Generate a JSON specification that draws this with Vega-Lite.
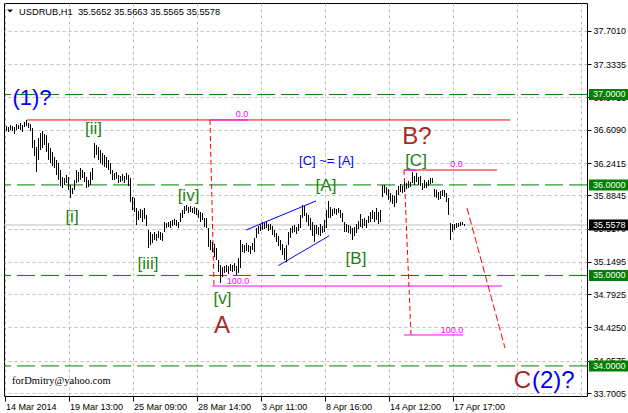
{
  "$schema": "https://vega.github.io/schema/vega-lite/v6.json",
  "width": 583,
  "height": 393,
  "autosize": "none",
  "padding": {"left": 4, "top": 3, "right": 41, "bottom": 17},
  "background": "white",
  "config": {"view": {"stroke": "black", "strokeWidth": 1}, "axis": {"labelOverlap": false}},
  "datasets": {
    "bars": [
      {"t":0,"hi":36.640,"lo":36.552},{"t":1,"hi":36.651,"lo":36.596},{"t":2,"hi":36.640,"lo":36.585},{"t":3,"hi":36.662,"lo":36.607},{"t":4,"hi":36.651,"lo":36.596},
      {"t":5,"hi":36.640,"lo":36.563},{"t":6,"hi":36.673,"lo":36.607},{"t":7,"hi":36.662,"lo":36.618},{"t":8,"hi":36.684,"lo":36.607},{"t":9,"hi":36.662,"lo":36.585},
      {"t":10,"hi":36.695,"lo":36.640},{"t":11,"hi":36.718,"lo":36.651},{"t":12,"hi":36.684,"lo":36.629},{"t":13,"hi":36.673,"lo":36.596},{"t":14,"hi":36.629,"lo":36.408},
      {"t":15,"hi":36.497,"lo":36.320},{"t":16,"hi":36.419,"lo":36.143},{"t":17,"hi":36.519,"lo":36.276},{"t":18,"hi":36.574,"lo":36.386},{"t":19,"hi":36.596,"lo":36.408},
      {"t":20,"hi":36.563,"lo":36.441},{"t":21,"hi":36.552,"lo":36.364},{"t":22,"hi":36.463,"lo":36.276},{"t":23,"hi":36.408,"lo":36.242},{"t":24,"hi":36.364,"lo":36.209},
      {"t":25,"hi":36.309,"lo":36.187},{"t":26,"hi":36.276,"lo":36.110},{"t":27,"hi":36.242,"lo":36.055},{"t":28,"hi":36.165,"lo":35.988},{"t":29,"hi":36.088,"lo":35.966},
      {"t":30,"hi":36.077,"lo":35.999},{"t":31,"hi":36.110,"lo":36.021},{"t":32,"hi":36.088,"lo":35.944},{"t":33,"hi":35.999,"lo":35.856},{"t":34,"hi":35.966,"lo":35.900},
      {"t":35,"hi":36.055,"lo":35.944},{"t":36,"hi":36.165,"lo":36.021},{"t":37,"hi":36.143,"lo":36.032},{"t":38,"hi":36.187,"lo":36.055},{"t":39,"hi":36.165,"lo":36.077},
      {"t":40,"hi":36.143,"lo":36.032},{"t":41,"hi":36.088,"lo":35.966},{"t":42,"hi":36.055,"lo":35.977},{"t":43,"hi":36.143,"lo":35.999},{"t":44,"hi":36.187,"lo":36.055},
      {"t":45,"hi":36.463,"lo":36.298},{"t":46,"hi":36.441,"lo":36.331},{"t":47,"hi":36.419,"lo":36.276},{"t":48,"hi":36.386,"lo":36.242},{"t":49,"hi":36.353,"lo":36.220},
      {"t":50,"hi":36.331,"lo":36.198},{"t":51,"hi":36.309,"lo":36.187},{"t":52,"hi":36.276,"lo":36.165},{"t":53,"hi":36.242,"lo":36.121},{"t":54,"hi":36.165,"lo":36.055},
      {"t":55,"hi":36.132,"lo":36.055},{"t":56,"hi":36.143,"lo":36.066},{"t":57,"hi":36.110,"lo":36.021},{"t":58,"hi":36.099,"lo":36.032},{"t":59,"hi":36.121,"lo":36.044},
      {"t":60,"hi":36.099,"lo":36.021},{"t":61,"hi":36.132,"lo":36.055},{"t":62,"hi":36.110,"lo":35.988},{"t":63,"hi":36.077,"lo":35.811},{"t":64,"hi":35.867,"lo":35.723},
      {"t":65,"hi":35.856,"lo":35.701},{"t":66,"hi":35.745,"lo":35.557},{"t":67,"hi":35.712,"lo":35.613},{"t":68,"hi":35.734,"lo":35.635},{"t":69,"hi":35.723,"lo":35.590},
      {"t":70,"hi":35.745,"lo":35.624},{"t":71,"hi":35.668,"lo":35.546},{"t":72,"hi":35.502,"lo":35.303},{"t":73,"hi":35.480,"lo":35.336},{"t":74,"hi":35.458,"lo":35.358},
      {"t":75,"hi":35.480,"lo":35.392},{"t":76,"hi":35.458,"lo":35.381},{"t":77,"hi":35.491,"lo":35.414},{"t":78,"hi":35.480,"lo":35.392},{"t":79,"hi":35.469,"lo":35.381},
      {"t":80,"hi":35.590,"lo":35.480},{"t":81,"hi":35.579,"lo":35.524},{"t":82,"hi":35.590,"lo":35.535},{"t":83,"hi":35.602,"lo":35.524},{"t":84,"hi":35.613,"lo":35.546},
      {"t":85,"hi":35.624,"lo":35.557},{"t":86,"hi":35.613,"lo":35.546},{"t":87,"hi":35.590,"lo":35.524},{"t":88,"hi":35.690,"lo":35.590},{"t":89,"hi":35.723,"lo":35.635},
      {"t":90,"hi":35.767,"lo":35.679},{"t":91,"hi":35.778,"lo":35.712},{"t":92,"hi":35.756,"lo":35.690},{"t":93,"hi":35.767,"lo":35.701},{"t":94,"hi":35.745,"lo":35.690},
      {"t":95,"hi":35.756,"lo":35.679},{"t":96,"hi":35.745,"lo":35.668},{"t":97,"hi":35.723,"lo":35.635},{"t":98,"hi":35.701,"lo":35.590},{"t":99,"hi":35.690,"lo":35.613},
      {"t":100,"hi":35.635,"lo":35.535},{"t":101,"hi":35.635,"lo":35.524},{"t":102,"hi":35.524,"lo":35.314},{"t":103,"hi":35.392,"lo":35.281},{"t":104,"hi":35.369,"lo":35.259},
      {"t":105,"hi":35.347,"lo":35.204},{"t":106,"hi":35.303,"lo":35.171},{"t":107,"hi":35.171,"lo":35.038},{"t":108,"hi":35.115,"lo":34.917},{"t":109,"hi":35.093,"lo":34.983},
      {"t":110,"hi":35.104,"lo":35.027},{"t":111,"hi":35.115,"lo":35.038},{"t":112,"hi":35.104,"lo":35.016},{"t":113,"hi":35.126,"lo":35.049},{"t":114,"hi":35.115,"lo":35.038},
      {"t":115,"hi":35.137,"lo":35.049},{"t":116,"hi":35.104,"lo":35.005},{"t":117,"hi":35.193,"lo":35.027},{"t":118,"hi":35.392,"lo":35.082},{"t":119,"hi":35.347,"lo":35.259},
      {"t":120,"hi":35.336,"lo":35.248},{"t":121,"hi":35.358,"lo":35.270},{"t":122,"hi":35.336,"lo":35.259},{"t":123,"hi":35.325,"lo":35.237},{"t":124,"hi":35.358,"lo":35.281},
      {"t":125,"hi":35.414,"lo":35.259},{"t":126,"hi":35.524,"lo":35.414},{"t":127,"hi":35.546,"lo":35.458},{"t":128,"hi":35.568,"lo":35.491},{"t":129,"hi":35.590,"lo":35.502},
      {"t":130,"hi":35.579,"lo":35.513},{"t":131,"hi":35.590,"lo":35.524},{"t":132,"hi":35.568,"lo":35.491},{"t":133,"hi":35.568,"lo":35.502},{"t":134,"hi":35.546,"lo":35.447},
      {"t":135,"hi":35.502,"lo":35.425},{"t":136,"hi":35.469,"lo":35.369},{"t":137,"hi":35.436,"lo":35.325},{"t":138,"hi":35.392,"lo":35.281},{"t":139,"hi":35.347,"lo":35.226},
      {"t":140,"hi":35.303,"lo":35.171},{"t":141,"hi":35.336,"lo":35.148},{"t":142,"hi":35.480,"lo":35.336},{"t":143,"hi":35.524,"lo":35.414},{"t":144,"hi":35.546,"lo":35.469},
      {"t":145,"hi":35.557,"lo":35.480},{"t":146,"hi":35.535,"lo":35.458},{"t":147,"hi":35.568,"lo":35.491},{"t":148,"hi":35.668,"lo":35.524},{"t":149,"hi":35.778,"lo":35.635},
      {"t":150,"hi":35.767,"lo":35.657},{"t":151,"hi":35.690,"lo":35.590},{"t":152,"hi":35.668,"lo":35.546},{"t":153,"hi":35.635,"lo":35.502},{"t":154,"hi":35.590,"lo":35.436},
      {"t":155,"hi":35.557,"lo":35.369},{"t":156,"hi":35.557,"lo":35.458},{"t":157,"hi":35.535,"lo":35.447},{"t":158,"hi":35.568,"lo":35.436},{"t":159,"hi":35.546,"lo":35.469},
      {"t":160,"hi":35.613,"lo":35.480},{"t":161,"hi":35.723,"lo":35.524},{"t":162,"hi":35.823,"lo":35.635},{"t":163,"hi":35.756,"lo":35.635},{"t":164,"hi":35.734,"lo":35.657},
      {"t":165,"hi":35.745,"lo":35.679},{"t":166,"hi":35.734,"lo":35.668},{"t":167,"hi":35.745,"lo":35.690},{"t":168,"hi":35.723,"lo":35.635},{"t":169,"hi":35.690,"lo":35.590},
      {"t":170,"hi":35.590,"lo":35.480},{"t":171,"hi":35.568,"lo":35.480},{"t":172,"hi":35.557,"lo":35.469},{"t":173,"hi":35.546,"lo":35.458},{"t":174,"hi":35.524,"lo":35.392},
      {"t":175,"hi":35.535,"lo":35.436},{"t":176,"hi":35.568,"lo":35.469},{"t":177,"hi":35.602,"lo":35.513},{"t":178,"hi":35.679,"lo":35.535},{"t":179,"hi":35.624,"lo":35.524},
      {"t":180,"hi":35.635,"lo":35.546},{"t":181,"hi":35.613,"lo":35.524},{"t":182,"hi":35.657,"lo":35.579},{"t":183,"hi":35.701,"lo":35.590},{"t":184,"hi":35.723,"lo":35.624},
      {"t":185,"hi":35.701,"lo":35.590},{"t":186,"hi":35.745,"lo":35.613},{"t":187,"hi":35.701,"lo":35.568},{"t":188,"hi":35.723,"lo":35.590},{"t":189,"hi":35.999,"lo":35.867},
      {"t":190,"hi":35.999,"lo":35.911},{"t":191,"hi":35.977,"lo":35.889},{"t":192,"hi":35.955,"lo":35.834},{"t":193,"hi":35.911,"lo":35.811},{"t":194,"hi":35.889,"lo":35.789},
      {"t":195,"hi":35.878,"lo":35.756},{"t":196,"hi":35.944,"lo":35.800},{"t":197,"hi":35.988,"lo":35.889},{"t":198,"hi":36.010,"lo":35.922},{"t":199,"hi":35.988,"lo":35.911},
      {"t":200,"hi":36.032,"lo":35.922},{"t":201,"hi":36.021,"lo":35.955},{"t":202,"hi":36.044,"lo":35.966},{"t":203,"hi":36.032,"lo":35.977},{"t":204,"hi":36.143,"lo":36.021},
      {"t":205,"hi":36.099,"lo":35.999},{"t":206,"hi":36.132,"lo":36.032},{"t":207,"hi":36.088,"lo":35.999},{"t":208,"hi":36.099,"lo":35.988},{"t":209,"hi":36.021,"lo":35.944},
      {"t":210,"hi":36.055,"lo":35.966},{"t":211,"hi":36.032,"lo":35.966},{"t":212,"hi":36.055,"lo":35.988},{"t":213,"hi":36.077,"lo":36.010},{"t":214,"hi":36.077,"lo":36.021},
      {"t":215,"hi":35.955,"lo":35.867},{"t":216,"hi":35.944,"lo":35.856},{"t":217,"hi":35.922,"lo":35.834},{"t":218,"hi":35.933,"lo":35.845},{"t":219,"hi":35.944,"lo":35.878},
      {"t":220,"hi":35.944,"lo":35.867},{"t":221,"hi":35.911,"lo":35.811},{"t":222,"hi":35.856,"lo":35.668},{"t":223,"hi":35.579,"lo":35.392},{"t":224,"hi":35.568,"lo":35.480},
      {"t":225,"hi":35.568,"lo":35.502},{"t":226,"hi":35.579,"lo":35.524},{"t":227,"hi":35.579,"lo":35.535},{"t":228,"hi":35.590,"lo":35.546},{"t":229,"hi":35.590,"lo":35.557},
      {"t":230,"hi":35.568,"lo":35.546}
    ],
    "levels": [
      {"v":37.0},{"v":36.0},{"v":35.0},{"v":34.0}
    ],
    "price": [{"v":35.5578}],
    "tags": [
      {"v":37.0,"lbl":"37.0000","kind":"level"},{"v":36.0,"lbl":"36.0000","kind":"level"},
      {"v":35.0,"lbl":"35.0000","kind":"level"},{"v":34.0,"lbl":"34.0000","kind":"level"},
      {"v":35.5578,"lbl":"35.5578","kind":"bid"}
    ],
    "redSolid": [
      {"t":11.25,"p":36.718,"t2":252.75,"p2":36.718},
      {"t":199.75,"p":36.165,"t2":246.25,"p2":36.165}
    ],
    "magentaSolid": [
      {"t":102.75,"p":36.718,"t2":121.75,"p2":36.718},
      {"t":103.75,"p":34.883,"t2":248.75,"p2":34.883},
      {"t":199.75,"p":36.165,"t2":206,"p2":36.165},
      {"t":199.75,"p":34.342,"t2":229.25,"p2":34.342}
    ],
    "fibTrend": [
      {"t":102.75,"p":36.718,"t2":104.75,"p2":34.883},
      {"t":199.75,"p":36.165,"t2":203.25,"p2":34.342}
    ],
    "projection": [{"t":231.25,"p":35.745,"t2":250.25,"p2":34.198}],
    "channel": [
      {"t":120.75,"p":35.502,"t2":155.75,"p2":35.823},
      {"t":136.9,"p":35.108,"t2":162.4,"p2":35.439}
    ],
    "waves": [
      {"t":33.75,"p":35.651,"txt":"[i]"},{"t":44.5,"p":36.613,"txt":"[ii]"},{"t":71.75,"p":35.121,"txt":"[iii]"},
      {"t":92,"p":35.878,"txt":"[iv]"},{"t":109,"p":34.740,"txt":"[v]"},{"t":160.75,"p":35.988,"txt":"[A]"},
      {"t":175.75,"p":35.187,"txt":"[B]"},{"t":205.75,"p":36.264,"txt":"[C]"}
    ],
    "redText": [
      {"t":108.75,"p":34.441,"txt":"A"},{"t":206.25,"p":36.530,"txt":"B?"},{"t":259,"p":33.833,"txt":"C"}
    ],
    "fibText": [
      {"t":118.75,"p":36.784,"txt":"0.0"},{"t":116.75,"p":34.939,"txt":"100.0"},
      {"t":226,"p":36.226,"txt":"0.0"},{"t":223.75,"p":34.397,"txt":"100.0"}
    ]
  },
  "encoding": {
    "y": {"field": "p", "type": "quantitative", "title": null,
      "scale": {"domain": [33.6677, 38.0104], "nice": false, "zero": false},
      "axis": {"orient": "right",
        "values": [33.7005,34.0575,34.425,34.7925,35.1495,35.517,35.8845,36.2415,36.609,36.9713,37.3335,37.701],
        "format": ".4f", "tickSize": 4, "labelPadding": 2, "tickColor": "black",
        "grid": true, "gridColor": "#c0c0c0", "gridDash": [3, 3], "domain": false,
        "labelFont": "Liberation Sans", "labelFontSize": 9, "labelColor": "black",
        "labelFlush": false, "labelOverlap": false, "labelBound": false}}
  },
  "layer": [
    {
      "data": {"name": "bars"},
      "mark": {"type": "rule", "color": "black", "strokeWidth": 1, "opacity": 0},
      "encoding": {
        "x": {"field": "t", "type": "quantitative", "title": null,
          "scale": {"domain": [-0.25, 291.25], "nice": false, "zero": false},
          "axis": {"values": [0,32,64,96,128,160,192,224,256,288],
            "labelExpr": "datum.value <= 224 ? ['14 Mar 2014','19 Mar 13:00','25 Mar 09:00','28 Mar 14:00','3 Apr 11:00','8 Apr 16:00','14 Apr 12:00','17 Apr 17:00'][round(datum.value/32)] : ''",
            "labelAlign": "left", "labelOffset": 1, "labelPadding": 1, "labelBaseline": "top",
            "tickSize": 5, "tickColor": {"condition": {"test": "datum.value > 224", "value": "transparent"}, "value": "black"},
            "grid": true, "gridColor": "#c0c0c0", "gridDash": [3, 3], "domain": false,
            "labelFont": "Liberation Sans", "labelFontSize": 9, "labelColor": "black",
            "labelFlush": false, "labelOverlap": false, "labelBound": false}},
        "y": {"field": "hi", "type": "quantitative"},
        "y2": {"field": "lo"}
      }
    },
    {
      "data": {"name": "levels"},
      "mark": {"type": "rule", "color": "#008000", "strokeWidth": 1, "strokeDash": [18, 6]},
      "encoding": {"y": {"field": "v", "type": "quantitative"}}
    },
    {
      "data": {"name": "price"},
      "mark": {"type": "rule", "color": "#c0c0c0", "strokeWidth": 1},
      "encoding": {"y": {"field": "v", "type": "quantitative"}}
    },
    {
      "data": {"name": "redSolid"},
      "mark": {"type": "rule", "color": "#ff0000", "strokeWidth": 1},
      "encoding": {"x": {"field": "t", "type": "quantitative"}, "x2": {"field": "t2"}, "y2": {"field": "p2"}}
    },
    {
      "data": {"name": "magentaSolid"},
      "mark": {"type": "rule", "color": "#ff00ff", "strokeWidth": 1},
      "encoding": {"x": {"field": "t", "type": "quantitative"}, "x2": {"field": "t2"}, "y2": {"field": "p2"}}
    },
    {
      "data": {"name": "fibTrend"},
      "mark": {"type": "rule", "color": "#ff0000", "strokeWidth": 1, "strokeDash": [5, 3]},
      "encoding": {"x": {"field": "t", "type": "quantitative"}, "x2": {"field": "t2"}, "y2": {"field": "p2"}}
    },
    {
      "data": {"name": "projection"},
      "mark": {"type": "rule", "color": "#ff0000", "strokeWidth": 1, "strokeDash": [7, 3]},
      "encoding": {"x": {"field": "t", "type": "quantitative"}, "x2": {"field": "t2"}, "y2": {"field": "p2"}}
    },
    {
      "data": {"name": "bars"},
      "mark": {"type": "rule", "color": "black", "strokeWidth": 1},
      "encoding": {"x": {"field": "t", "type": "quantitative"}, "y": {"field": "hi", "type": "quantitative"}, "y2": {"field": "lo"}}
    },
    {
      "data": {"name": "channel"},
      "mark": {"type": "rule", "color": "#0000ff", "strokeWidth": 1},
      "encoding": {"x": {"field": "t", "type": "quantitative"}, "x2": {"field": "t2"}, "y2": {"field": "p2"}}
    },
    {
      "data": {"name": "waves"},
      "mark": {"type": "text", "font": "Liberation Sans", "fontSize": 17, "color": "#1f7f12", "align": "center", "baseline": "middle"},
      "encoding": {"x": {"field": "t", "type": "quantitative"}, "text": {"field": "txt"}}
    },
    {
      "data": {"name": "redText"},
      "mark": {"type": "text", "font": "Liberation Sans", "fontSize": 24, "color": "#a52a2a", "align": "center", "baseline": "middle"},
      "encoding": {"x": {"field": "t", "type": "quantitative"}, "text": {"field": "txt"}}
    },
    {
      "data": {"name": "fibText"},
      "mark": {"type": "text", "font": "Liberation Sans", "fontSize": 9, "color": "#ff00ff", "align": "center", "baseline": "middle"},
      "encoding": {"x": {"field": "t", "type": "quantitative"}, "text": {"field": "txt"}}
    },
    {
      "data": {"values": [{"t": 13.75, "p": 36.961, "txt": "(1)?"}]},
      "mark": {"type": "text", "font": "Liberation Sans", "fontSize": 22, "color": "#0000ff", "align": "center", "baseline": "middle"},
      "encoding": {"x": {"field": "t", "type": "quantitative"}, "text": {"field": "txt"}}
    },
    {
      "data": {"values": [{"t": 263.75, "p": 33.833, "txt": "(2)?"}]},
      "mark": {"type": "text", "font": "Liberation Sans", "fontSize": 24, "color": "#0000ff", "align": "left", "baseline": "middle"},
      "encoding": {"x": {"field": "t", "type": "quantitative"}, "text": {"field": "txt"}}
    },
    {
      "data": {"values": [{"t": 161, "p": 36.264, "txt": "[C] ~= [A]"}]},
      "mark": {"type": "text", "font": "Liberation Sans", "fontSize": 13, "color": "#0000ff", "align": "center", "baseline": "middle"},
      "encoding": {"x": {"field": "t", "type": "quantitative"}, "text": {"field": "txt"}}
    },
    {
      "data": {"values": [{"t": 3.75, "p": 33.833, "txt": "forDmitry@yahoo.com"}]},
      "mark": {"type": "text", "font": "Liberation Serif", "fontSize": 10.5, "color": "black", "align": "left", "baseline": "middle"},
      "encoding": {"x": {"field": "t", "type": "quantitative"}, "text": {"field": "txt"}}
    },
    {
      "data": {"values": [{"t": 7.25, "p": 37.911, "txt": "USDRUB,H1\u00a0 35.5652 35.5663 35.5565 35.5578"}]},
      "mark": {"type": "text", "font": "Liberation Sans", "fontSize": 9.3, "color": "black", "align": "left", "baseline": "middle"},
      "encoding": {"x": {"field": "t", "type": "quantitative"}, "text": {"field": "txt"}}
    },
    {
      "data": {"values": [{"t": 2.75, "p": 37.922}]},
      "mark": {"type": "point", "shape": "M-1,-0.5L1,-0.5L0,0.5Z", "size": 36, "filled": true, "color": "black", "opacity": 1},
      "encoding": {"x": {"field": "t", "type": "quantitative"}}
    },
    {
      "data": {"name": "tags"},
      "mark": {"type": "rule", "strokeWidth": 11, "strokeCap": "butt", "clip": false, "opacity": 1},
      "encoding": {
        "x": {"datum": 292.25, "type": "quantitative"}, "x2": {"datum": 311.75},
        "y": {"field": "v", "type": "quantitative"},
        "stroke": {"condition": {"test": "datum.kind == 'bid'", "value": "#000000"}, "value": "#008000"}
      }
    },
    {
      "data": {"name": "tags"},
      "mark": {"type": "text", "font": "Liberation Sans", "fontSize": 9, "color": "white", "align": "left", "baseline": "middle", "clip": false},
      "encoding": {"x": {"datum": 294.25, "type": "quantitative"}, "y": {"field": "v", "type": "quantitative"}, "text": {"field": "lbl"}}
    }
  ]
}
